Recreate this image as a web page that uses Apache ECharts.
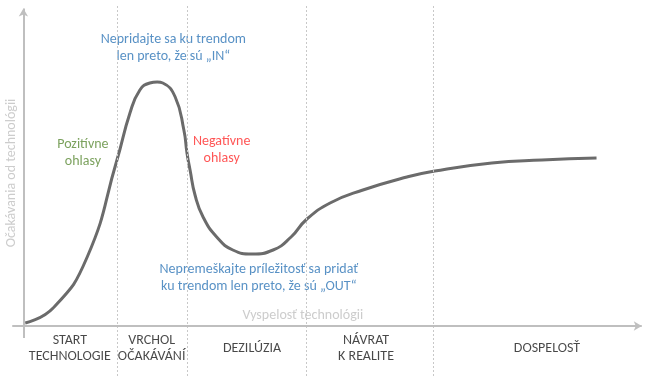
<!DOCTYPE html>
<html>
<head>
<meta charset="utf-8">
<script src="https://cdn.jsdelivr.net/npm/echarts@6/dist/echarts.min.js"></script>
<style>
  html, body { margin: 0; padding: 0; background: #fff; }
  #chart { width: 650px; height: 376px; }
</style>
</head>
<body>
<div id="chart"></div>
<script>
// hype curve (x = maturity, y = expectations)
const curveX = [0.3, 4.8, 10.3, 15.1, 17.2, 18.8, 20.4, 21.6, 22.5, 24.5, 25.9, 26.4, 26.9, 27.7, 29.0, 31.2, 33.8, 36.9, 40.3, 43.2, 45.6, 49.5, 54.8, 61.9, 66.4, 75.6, 83.7, 92.5]
const curveY = [1.2, 7.2, 27.6, 66.4, 85.2, 94.4, 97.2, 97.6, 97.2, 91.6, 78.4, 69.2, 62.4, 52.4, 43.6, 35.6, 30.4, 28.8, 30.4, 35.6, 42.4, 49.2, 54.4, 59.6, 62.0, 65.2, 66.4, 67.2]

// phase borders and phase names
const phaseBorders = [15.1, 26.4, 45.6, 66.1]
const phaseNames = ['START\nTECHNOLOGIE', 'VRCHOL\nOČAKÁVÁNÍ', 'DEZILÚZIA', 'NÁVRAT\nK REALITE', 'DOSPELOSŤ']
const phaseCenters = [7.5, 20.7, 36.9, 55.3, 84.5]

// annotations: [x, y, text, colour]
const notes = [
  [24.2, 111.2, 'Nepridajte sa ku trendom\nlen preto, že sú „IN“', '#2e75b6'],
  [9.6, 69.2, 'Pozitívne\nohlasy', '#5a8a35'],
  [32.0, 70.4, 'Negatívne\nohlasy', '#ff2a2a'],
  [38.0, 19.2, 'Nepremeškajte príležitosť sa pridať\nku trendom len preto, že sú „OUT“', '#2e75b6'],
]

const xAxisName = 'Vyspelosť technológii'
const yAxisName = 'Očakávania od technológii'

const FONT = 'Carlito, Lato, sans-serif'
const AXIS_GREY = '#bfbfbf'

const chart = echarts.init(document.getElementById('chart'))

chart.setOption({
  animation: false,
  grid: { left: 11, right: 7, top: 6, bottom: 0 },
  xAxis: {
    type: 'value',
    min: -2,
    max: 100,
    axisLine: { show: false },
    axisTick: { show: false },
    axisLabel: { show: false },
    splitLine: { show: false },
  },
  yAxis: {
    type: 'value',
    min: -20,
    max: 128,
    axisLine: { show: false },
    axisTick: { show: false },
    axisLabel: { show: false },
    splitLine: { show: false },
  },
  series: [
    {
      // phase borders
      type: 'scatter',
      data: [],
      silent: true,
      markLine: {
        silent: true,
        symbol: 'none',
        label: { show: false },
        lineStyle: { color: '#c8c8c8', type: [2, 2], width: 1 },
        data: phaseBorders.map((x) => ({ xAxis: x })),
      },
    },
    {
      // axes with arrows
      type: 'scatter',
      data: [],
      silent: true,
      markLine: {
        silent: true,
        symbol: ['none', 'arrow'],
        symbolSize: [7, 8],
        label: { show: false },
        lineStyle: { color: AXIS_GREY, type: 'solid', width: 2 },
        data: [
          [{ coord: [-1.8, 0] }, { coord: [99.8, 0] }],
          [{ coord: [0, -4.8] }, { coord: [0, 127] }],
        ],
      },
    },
    {
      type: 'line',
      data: curveX.map((x, i) => [x, curveY[i]]),
      smooth: 0.5,
      showSymbol: false,
      silent: true,
      lineStyle: { color: '#6b6b6b', width: 3 },
    },
    {
      // phase names under the axis
      type: 'scatter',
      symbolSize: 0,
      silent: true,
      data: phaseCenters.map((x, i) => ({ value: [x, -8.8], name: phaseNames[i] })),
      label: {
        show: true,
        position: 'inside',
        formatter: (p) => p.name,
        color: '#1a1a1a',
        fontFamily: FONT,
        fontSize: 14,
        lineHeight: 16,
        align: 'center',
      },
    },
    {
      // notes and axis names
      type: 'scatter',
      symbolSize: 0,
      silent: true,
      data: [
        ...notes.map((n) => ({
          value: [n[0], n[1]],
          name: n[2],
          label: { color: n[3] },
        })),
        { value: [45.1, 4.4], name: xAxisName, label: { color: AXIS_GREY } },
        { value: [-1.84, 61.2], name: yAxisName, label: { color: AXIS_GREY, rotate: 90 } },
      ],
      label: {
        show: true,
        position: 'inside',
        formatter: (p) => p.name,
        fontFamily: FONT,
        fontSize: 14,
        lineHeight: 17,
        align: 'center',
      },
    },
  ],
})
</script>
</body>
</html>
